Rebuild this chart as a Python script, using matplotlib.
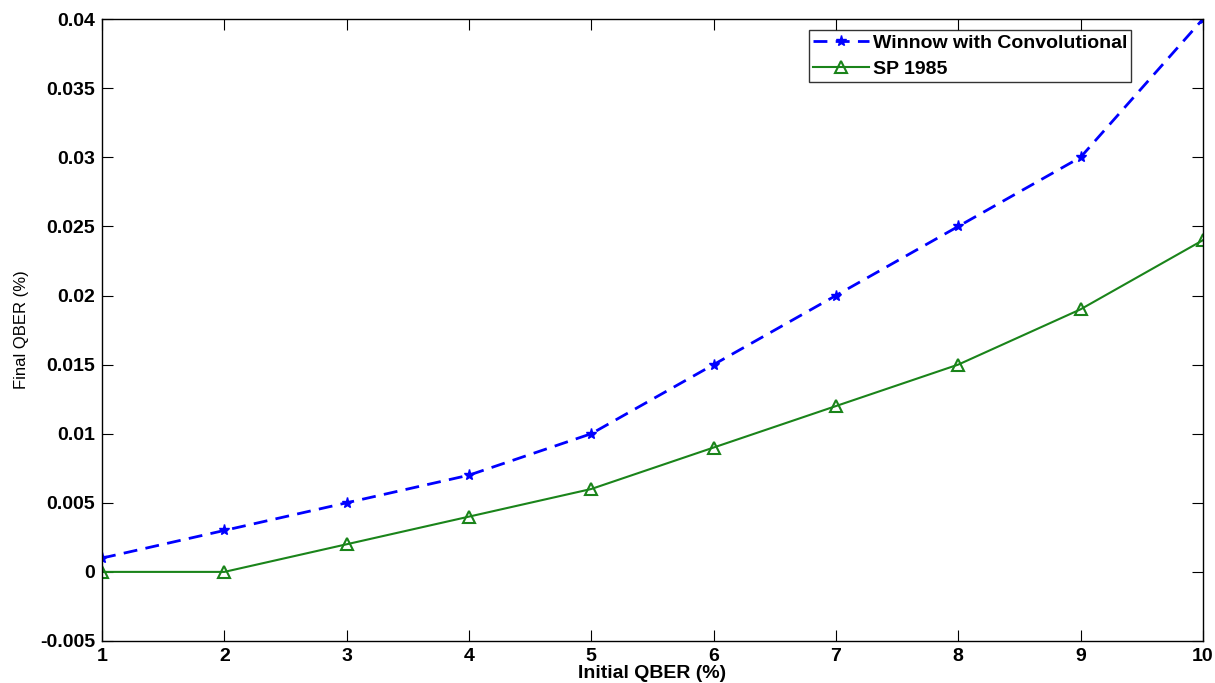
import matplotlib

# Use non-interactive backend
matplotlib.use("Agg")

import matplotlib.pyplot as plt

# ------------------ data ------------------
initial_qber = [1, 2, 3, 4, 5, 6, 7, 8, 9, 10]
winnow_conv = [0.001, 0.003, 0.005, 0.007, 0.010, 0.015, 0.020, 0.025, 0.030, 0.040]
sp_1985 = [0.0, 0.0, 0.002, 0.004, 0.006, 0.009, 0.012, 0.015, 0.019, 0.024]

x_ticks = [1, 2, 3, 4, 5, 6, 7, 8, 9, 10]
y_ticks = [-0.005, 0, 0.005, 0.01, 0.015, 0.02, 0.025, 0.03, 0.035, 0.04]
y_tick_labels = ["-0.005", "0", "0.005", "0.01", "0.015", "0.02",
                 "0.025", "0.03", "0.035", "0.04"]

plt.rcParams["font.family"] = ["Liberation Sans", "DejaVu Sans"]
plt.rcParams["font.weight"] = "bold"

fig = plt.figure(figsize=(12.15, 6.83), dpi=100)
ax = fig.add_axes([0.084, 0.0615, 0.906, 0.9105])

ax.plot(initial_qber, winnow_conv, color="#0000ff", linestyle=(0, (5, 3)),
        linewidth=2, marker="*", markersize=8, label="Winnow with Convolutional")
ax.plot(initial_qber, sp_1985, color="#1a841a", linestyle="-",
        linewidth=1.5, marker="^", markersize=9, markerfacecolor="none",
        markeredgewidth=1.5, label="SP 1985")

ax.set_xlim(1, 10)
ax.set_ylim(-0.005, 0.04)
ax.set_xticks(x_ticks)
ax.set_yticks(y_ticks)
ax.set_yticklabels(y_tick_labels)

ax.tick_params(direction="in", top=True, right=True, length=8,
               labelsize=14, pad=5)
for spine in ax.spines.values():
    spine.set_linewidth(1.0)

ax.set_xlabel("Initial QBER (%)", fontsize=14, fontweight="bold", labelpad=0)
ax.set_ylabel("Final QBER (%)", fontsize=12, fontweight="normal", labelpad=8)

leg = ax.legend(loc="upper right", bbox_to_anchor=(0.935, 0.982),
                fontsize=14, frameon=True, fancybox=False,
                borderpad=0.2, labelspacing=0.45, handlelength=2.9,
                handletextpad=0.2, borderaxespad=0)
leg.get_frame().set_edgecolor("black")
leg.get_frame().set_linewidth(1.0)

fig.savefig("out.png", dpi=100)
plt.close(fig)
